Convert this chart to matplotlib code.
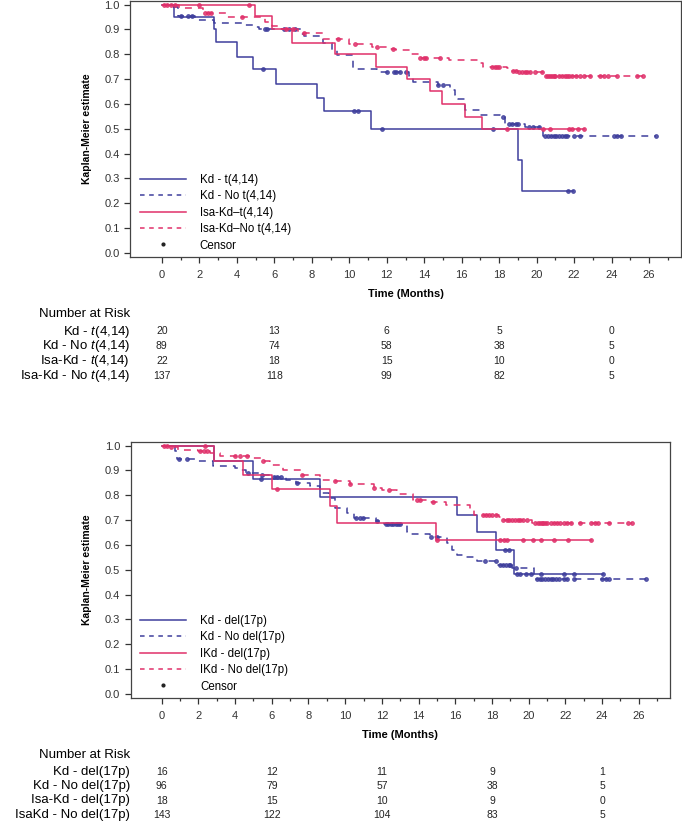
import matplotlib
matplotlib.use('Agg')
import matplotlib.pyplot as plt
import matplotlib.transforms as mtransforms
from matplotlib.lines import Line2D
import numpy as np

plt.rcParams['font.family'] = ['Liberation Sans', 'DejaVu Sans']
plt.rcParams['mathtext.fontset'] = 'custom'
plt.rcParams['mathtext.rm'] = 'Liberation Sans'
plt.rcParams['mathtext.it'] = 'Liberation Sans:italic'

BLUE = '#3e3e9c'
PINK = '#e0306a'

# ---------------- top panel: t(4,14) ----------------
kd_t_times = [0.67, 2.8, 2.9, 4.0, 4.85, 6.08, 8.3, 8.65, 11.15, 19.0, 19.2]
kd_t_surv = [0.95, 0.90, 0.85, 0.79, 0.74, 0.68, 0.625, 0.57, 0.50, 0.375, 0.25]
kd_t_cens = [5.4, 10.27, 10.49, 11.76, 17.65, 21.69, 21.92]
kd_t_end = 21.92

kd_not_times = [0.45, 0.85, 1.78, 2.8, 4.3, 4.9, 5.2, 7.4, 7.6, 8.6, 9.1, 9.33, 10.2, 11.5,
                13.2, 13.4, 14.75, 15.4, 15.64, 15.8, 16.17, 17.0, 18.05, 18.3, 19.4, 20.35]
kd_not_surv = [0.99, 0.955, 0.94, 0.927, 0.918, 0.91, 0.90, 0.882, 0.875, 0.847, 0.817, 0.797, 0.74, 0.73,
               0.712, 0.69, 0.676, 0.656, 0.636, 0.619, 0.575, 0.555, 0.546, 0.519, 0.506, 0.47]
kd_not_cens = [1.0, 1.4, 1.6, 5.5, 5.6, 6.5, 6.8, 7.1, 12.0, 12.4, 12.5, 12.7, 13.0, 14.75, 15.0,
               18.2, 18.5, 18.7, 18.9, 19.0, 19.6, 19.8, 20.1, 20.45, 20.6, 20.75, 20.9, 21.05,
               21.2, 21.35, 21.5, 21.6, 22.0, 22.3, 24.1, 24.3, 24.5, 26.37]
kd_not_end = 26.37

isa_t_times = [4.97, 5.87, 6.93, 9.24, 11.43, 13.07, 14.3, 14.93, 16.17, 17.07]
isa_t_surv = [0.955, 0.90, 0.847, 0.80, 0.75, 0.70, 0.653, 0.60, 0.548, 0.50]
isa_t_cens = [2.0, 4.66, 18.4, 20.35, 20.7, 21.7, 21.9, 22.2, 22.5]
isa_t_end = 22.5

isa_not_times = [0.9, 2.2, 3.5, 5.5, 5.87, 6.3, 7.27, 8.6, 10.0, 11.2, 12.0, 12.5, 13.3, 13.7,
                 15.3, 16.9, 17.15, 18.4, 18.6, 19.0, 20.4]
isa_not_surv = [0.985, 0.965, 0.952, 0.93, 0.914, 0.902, 0.884, 0.86, 0.84, 0.828, 0.82, 0.817,
                0.801, 0.786, 0.777, 0.764, 0.75, 0.743, 0.734, 0.729, 0.712]
isa_not_cens = [0.1, 0.3, 0.5, 0.7, 2.3, 2.45, 2.6, 4.3, 6.6, 7.0, 7.6, 9.4, 10.3, 11.47, 12.35,
                13.8, 14.0, 14.1, 14.85, 17.6, 17.75, 17.9, 18.0, 18.75, 18.9, 19.05, 19.2, 19.35,
                19.5, 19.65, 19.9, 20.27, 20.5, 20.6, 20.7, 20.8, 20.9, 21.0, 21.2, 21.35, 21.5,
                21.6, 21.75, 21.9, 22.1, 22.3, 22.5, 22.85, 23.4, 23.6, 23.8, 24.3, 25.33, 25.69]
isa_not_end = 25.69

top_labels = ['Kd - t(4,14)', 'Kd - No t(4,14)', 'Isa-Kd\u2013t(4,14)', 'Isa-Kd\u2013No t(4,14)']
top_risk_labels = ['Kd - $t$(4,14)', 'Kd - No $t$(4,14)', 'Isa-Kd - $t$(4,14)', 'Isa-Kd - No $t$(4,14)']
top_risk = [[20, 13, 6, 5, 0],
            [89, 74, 58, 38, 5],
            [22, 18, 15, 10, 0],
            [137, 118, 99, 82, 5]]

# ---------------- bottom panel: del(17p) ----------------
kd_d_times = [2.87, 5.0, 8.64, 16.1, 17.2, 18.2, 19.2]
kd_d_surv = [0.937, 0.865, 0.795, 0.721, 0.651, 0.58, 0.481]
kd_d_cens = [5.4, 18.7, 18.9, 19.37, 19.55, 19.86, 20.15, 20.68, 21.9, 22.45, 24.06]
kd_d_end = 24.06

kd_nod_times = [0.72, 0.85, 1.82, 2.8, 4.0, 4.3, 4.6, 5.3, 5.9, 6.8, 7.3, 8.1, 8.64, 9.1, 9.45,
                10.1, 10.5, 11.7, 12.1, 13.37, 13.6, 14.6, 15.55, 15.8, 16.1, 16.4, 17.2, 18.3,
                19.1, 20.3]
kd_nod_surv = [0.977, 0.947, 0.937, 0.919, 0.91, 0.90, 0.89, 0.883, 0.873, 0.863, 0.85, 0.838,
               0.809, 0.788, 0.748, 0.728, 0.708, 0.698, 0.683, 0.653, 0.644, 0.631, 0.607, 0.58,
               0.559, 0.55, 0.536, 0.519, 0.505, 0.461]
kd_nod_cens = [0.96, 1.36, 4.7, 5.46, 6.1, 6.3, 6.5, 7.36, 10.6, 10.8, 10.95, 11.73, 12.2, 12.35,
               12.5, 12.6, 12.75, 12.9, 13.0, 14.7, 15.0, 17.6, 18.2, 18.45, 18.6, 18.75, 18.9,
               19.0, 19.3, 20.45, 20.6, 20.75, 20.9, 21.05, 21.2, 21.35, 21.5, 21.65, 21.9, 22.1,
               22.45, 24.0, 24.2, 24.36, 26.37]
kd_nod_end = 26.37

ikd_d_times = [2.87, 4.42, 6.0, 9.18, 9.55, 14.96]
ikd_d_surv = [0.94, 0.883, 0.825, 0.755, 0.687, 0.62]
ikd_d_cens = [2.36, 6.27, 15.0, 18.46, 18.64, 18.82, 19.7, 20.24, 20.69, 21.36, 22.15, 23.37]
ikd_d_end = 23.37

ikd_nod_times = [0.45, 0.9, 2.0, 2.63, 3.18, 5.0, 5.5, 5.9, 6.63, 7.64, 8.64, 9.4, 10.27, 11.55,
                 12.0, 12.85, 13.7, 14.5, 15.5, 16.8, 17.0, 18.4, 18.55, 20.2]
ikd_nod_surv = [0.995, 0.984, 0.977, 0.97, 0.96, 0.95, 0.94, 0.923, 0.903, 0.883, 0.86, 0.856,
                0.845, 0.829, 0.822, 0.806, 0.782, 0.771, 0.761, 0.741, 0.721, 0.712, 0.701, 0.687]
ikd_nod_cens = [0.1, 0.3, 0.5, 2.1, 2.3, 2.45, 4.0, 4.27, 4.64, 5.5, 7.64, 9.45, 10.27, 11.55,
                12.36, 13.9, 14.1, 14.8, 17.5, 17.7, 17.85, 18.0, 18.2, 18.6, 18.8, 18.95, 19.1,
                19.25, 19.4, 19.55, 19.7, 19.9, 20.36, 20.5, 20.6, 20.7, 20.8, 20.9, 21.0, 21.2,
                21.4, 21.55, 21.7, 21.9, 22.1, 22.3, 22.8, 23.4, 23.6, 23.8, 24.4, 25.4, 25.65]
ikd_nod_end = 25.65

bot_labels = ['Kd - del(17p)', 'Kd - No del(17p)', 'IKd - del(17p)', 'IKd - No del(17p)']
bot_risk_labels = ['Kd - del(17p)', 'Kd - No del(17p)', 'Isa-Kd - del(17p)', 'IsaKd - No del(17p)']
bot_risk = [[16, 12, 11, 9, 1],
            [96, 79, 57, 38, 5],
            [18, 15, 10, 9, 0],
            [143, 122, 104, 83, 5]]

risk_months = [0, 6, 12, 18, 24]

W, H = 682, 825


def km_curve(ax, times, surv, end, cens, color, ls):
    x = [0] + list(times) + [end]
    y = [1.0] + list(surv) + [surv[-1]]
    kw = dict(color=color, lw=1.1)
    if ls == '--':
        kw['dashes'] = (4.5, 4)
    ax.step(x, y, where='post', **kw)
    # censor marks sit on the curve level at that time
    levels = np.array([1.0] + list(surv))
    idx = np.searchsorted(times, cens, side='right')
    ax.plot(cens, levels[idx], ls='none', marker='o', ms=2.7, mew=0.7,
            mec=color, mfc=color, alpha=0.85)


def style_axes(ax):
    ax.set_xlim(-1.7, 27.7)
    ax.set_ylim(-0.016, 1.016)
    ax.set_xticks(np.arange(0, 27, 2))
    ax.set_xticks(np.arange(1, 28, 2), minor=True)
    ax.set_yticks(np.arange(0, 1.01, 0.1))
    ax.set_yticklabels([f'{v:.1f}' for v in np.arange(0, 1.01, 0.1)])
    ax.tick_params(axis='both', which='major', direction='out', length=4.3, width=0.9,
                   labelsize=8, colors='#333333')
    ax.tick_params(axis='x', which='major', pad=5)
    ax.tick_params(axis='y', which='major', pad=3)
    ax.tick_params(axis='x', which='minor', direction='out', length=2.2, width=0.9, color='#333333')
    for s in ax.spines.values():
        s.set_linewidth(0.9)
        s.set_color('#444444')
    ax.set_xlabel('Time (Months)', fontsize=8, fontweight='bold', labelpad=7)
    ax.set_ylabel('Kaplan-Meier estimate', fontsize=7.5, fontweight='bold', labelpad=9)


def add_legend(ax, labels):
    handles = [Line2D([], [], color=BLUE, lw=1.1),
               Line2D([], [], color=BLUE, lw=1.1, dashes=(3, 3)),
               Line2D([], [], color=PINK, lw=1.1),
               Line2D([], [], color=PINK, lw=1.1, dashes=(3, 3)),
               Line2D([], [], ls='none', marker='o', ms=2, color='#222222')]
    ax.legend(handles, labels + ['Censor'], loc='lower left', frameon=False, fontsize=8.3,
              handlelength=4.0, handletextpad=1.2, labelspacing=0.38,
              bbox_to_anchor=(0.008, 0.0), borderaxespad=0.05)


def risk_table(fig, ax, labels, counts, title_y, row_ys):
    trans = mtransforms.blended_transform_factory(ax.transData, fig.transFigure)
    fig.text(130 / W, 1 - title_y / H, 'Number at Risk', ha='right', va='center', fontsize=9.5)
    for lab, row, y in zip(labels, counts, row_ys):
        fig.text(130 / W, 1 - y / H, lab, ha='right', va='center', fontsize=9.5)
        for m, n in zip(risk_months, row):
            ax.text(m, 1 - y / H, str(n), transform=trans, ha='center', va='center',
                    fontsize=7.5, color='#222222')


fig = plt.figure(figsize=(W / 100, H / 100), dpi=100)

ax1 = fig.add_axes([130 / W, 1 - 256.7 / H, 551 / W, 256 / H])
km_curve(ax1, kd_t_times, kd_t_surv, kd_t_end, kd_t_cens, BLUE, '-')
km_curve(ax1, kd_not_times, kd_not_surv, kd_not_end, kd_not_cens, BLUE, '--')
km_curve(ax1, isa_t_times, isa_t_surv, isa_t_end, isa_t_cens, PINK, '-')
km_curve(ax1, isa_not_times, isa_not_surv, isa_not_end, isa_not_cens, PINK, '--')
style_axes(ax1)
add_legend(ax1, top_labels)
risk_table(fig, ax1, top_risk_labels, top_risk, 314, [331.5, 346, 361, 376])

ax2 = fig.add_axes([130.5 / W, 1 - 697.7 / H, 539.5 / W, 256 / H])
km_curve(ax2, kd_d_times, kd_d_surv, kd_d_end, kd_d_cens, BLUE, '-')
km_curve(ax2, kd_nod_times, kd_nod_surv, kd_nod_end, kd_nod_cens, BLUE, '--')
km_curve(ax2, ikd_d_times, ikd_d_surv, ikd_d_end, ikd_d_cens, PINK, '-')
km_curve(ax2, ikd_nod_times, ikd_nod_surv, ikd_nod_end, ikd_nod_cens, PINK, '--')
style_axes(ax2)
add_legend(ax2, bot_labels)
risk_table(fig, ax2, bot_risk_labels, bot_risk, 755, [772, 786, 800.5, 815])

fig.savefig('out.png', dpi=100)
